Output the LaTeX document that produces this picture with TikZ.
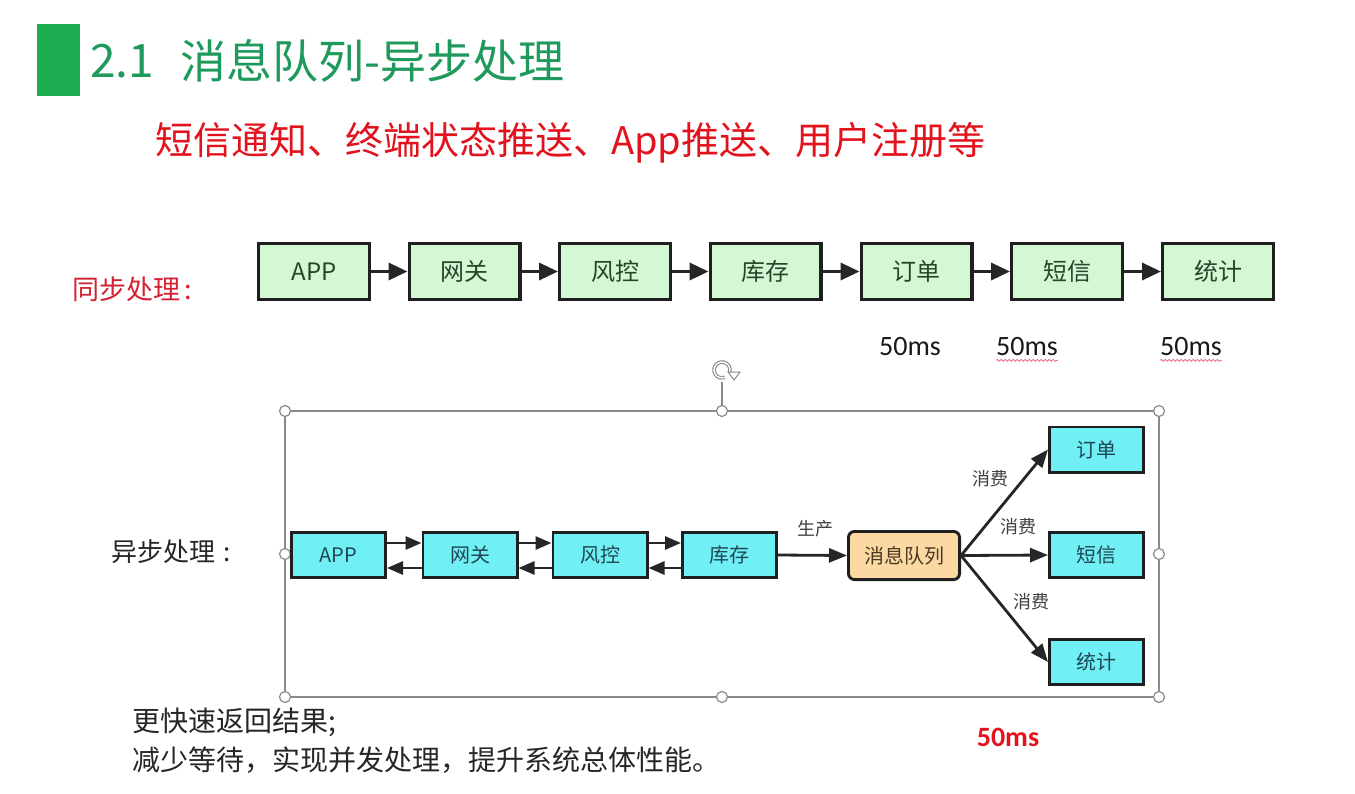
\documentclass[tikz,border=0pt]{standalone}
\usepackage{fontspec}
\setmainfont{Noto Sans CJK SC}
\newfontfamily\calfont{Carlito}
\usetikzlibrary{arrows.meta,decorations.pathmorphing}

\definecolor{barGreen}{HTML}{1DAA50}
\definecolor{titleGreen}{HTML}{1E9A5C}
\definecolor{subRed}{HTML}{E3131E}
\definecolor{labelRed}{HTML}{D42030}
\definecolor{syncFill}{HTML}{D4F7D4}
\definecolor{syncText}{HTML}{24472A}
\definecolor{aquaFill}{HTML}{70F0F5}
\definecolor{aquaText}{HTML}{1F4652}
\definecolor{queueFill}{HTML}{FCD8A2}
\definecolor{queueText}{HTML}{4A3A22}
\definecolor{frameGray}{HTML}{8A8A8A}
\definecolor{waveRed}{HTML}{E0607A}

\tikzset{
  syncbox/.style={draw=black!88, line width=3.4pt, fill=syncFill, text=syncText,
    minimum width=110.6pt, minimum height=55.6pt, inner sep=0pt,
    font=\fontsize{24}{24}\selectfont},
  asyncbox/.style={draw=black!88, line width=2.9pt, fill=aquaFill, text=aquaText,
    minimum width=94.1pt, minimum height=45.1pt, inner sep=0pt,
    font=\fontsize{20}{20}\selectfont},
  queuebox/.style={draw=black!88, line width=2.9pt, fill=queueFill, text=queueText,
    rounded corners=6pt, minimum width=111.1pt, minimum height=48.1pt, inner sep=0pt,
    font=\fontsize{20}{20}\selectfont},
  syncarrow/.style={draw=black!85, line width=3.4pt, -{Triangle[length=19pt,width=17pt]}},
  asyncarrow/.style={draw=black!85, line width=2.9pt, -{Triangle[length=16pt,width=13pt]}},
  mqarrow/.style={draw=black!85, line width=2.8pt, -{Triangle[length=18pt,width=14pt]}},
  edgelabel/.style={text=black!75, font=\fontsize{18}{18}\selectfont, inner sep=0pt},
  timing/.style={text=black!90, font=\calfont\fontsize{28}{28}\selectfont, inner sep=0pt},
  handle/.style={circle, draw=frameGray, line width=1.2pt, fill=white,
    minimum size=11pt, inner sep=0pt},
  wavy/.style={draw=waveRed, line width=0.7pt,
    decorate, decoration={snake, segment length=4pt, amplitude=1pt}},
}

\begin{document}
\begin{tikzpicture}[x=1pt, y=-1pt]
\path[use as bounding box, fill=white] (0,0) rectangle (1355,793);

% heading
\fill[barGreen] (37,24) rectangle (80,96);
\node[anchor=west, text=titleGreen, font=\fontsize{46}{46}\selectfont, inner sep=0pt]
  (num) at (90,61) {2.1};
\node[anchor=west, text=titleGreen, font=\fontsize{46}{46}\selectfont, inner sep=0pt]
  (title) at (180,61) {消息队列-异步处理};
\node[anchor=west, text=subRed, font=\fontsize{38}{38}\selectfont, inner sep=0pt]
  (subtitle) at (155,143) {短信通知、终端状态推送、App推送、用户注册等};

% synchronous chain
\node[anchor=west, text=labelRed, font=\fontsize{27}{27}\selectfont, inner sep=0pt]
  (synclabel) at (72,289) {同步处理\,:};
\node[syncbox] (s1) at (314,271.5) {APP};
\node[syncbox] (s2) at (464.5,271.5) {网关};
\node[syncbox] (s3) at (615,271.5) {风控};
\node[syncbox] (s4) at (765.5,271.5) {库存};
\node[syncbox] (s5) at (916.5,271.5) {订单};
\node[syncbox] (s6) at (1067,271.5) {短信};
\node[syncbox] (s7) at (1218,271.5) {统计};
\foreach \a/\b in {s1/s2,s2/s3,s3/s4,s4/s5,s5/s6,s6/s7}
  \draw[syncarrow] (\a.east) -- (\b.west);

\node[timing] (t1) at (910,347) {50ms};
\node[timing] (t2) at (1027,347) {50ms};
\node[timing] (t3) at (1191,347) {50ms};
\draw[wavy] ([yshift=-4pt]t2.south west) -- ([yshift=-4pt]t2.south east);
\draw[wavy] ([yshift=-4pt]t3.south west) -- ([yshift=-4pt]t3.south east);

% selection frame with handles
\coordinate (fTL) at (285,411);
\coordinate (fTM) at (722,411);
\coordinate (fTR) at (1159,411);
\coordinate (fML) at (285,554);
\coordinate (fMR) at (1159,554);
\coordinate (fBL) at (285,697);
\coordinate (fBM) at (722,697);
\coordinate (fBR) at (1159,697);
\coordinate (rot) at (722,370);
\draw[frameGray, line width=1.2pt] (fTL) rectangle (fBR);
\draw[frameGray, line width=1.2pt] (fTM) -- (722,382);
% rotation handle
\draw[frameGray, line width=3.6pt] (rot) ++(15:8) arc[start angle=15, end angle=-290, radius=8];
\draw[white, line width=1.4pt] (rot) ++(15:8) arc[start angle=15, end angle=-290, radius=8];
\filldraw[fill=white, draw=frameGray, line width=1pt]
  (728,372) -- (740,372) -- (734,380) -- cycle;
\foreach \h in {fTL,fTM,fTR,fML,fMR,fBL,fBM,fBR}
  \node[handle] at (\h) {};

% asynchronous chain
\node[anchor=west, text=black!85, font=\fontsize{26}{26}\selectfont, inner sep=0pt]
  (asynclabel) at (111,552) {异步处理\,\,:};
\node[asyncbox] (a1) at (338.5,555) {APP};
\node[asyncbox] (a2) at (470,555) {网关};
\node[asyncbox] (a3) at (600,555) {风控};
\node[asyncbox] (a4) at (729.5,555) {库存};
\foreach \a/\b in {a1/a2,a2/a3,a3/a4}{
  \draw[asyncarrow] ([yshift=12pt]\a.east) -- ([yshift=12pt]\b.west);
  \draw[asyncarrow] ([yshift=-13pt]\b.west) -- ([yshift=-13pt]\a.east);
}

\node[queuebox] (mq) at (904,555.5) {消息队列};
\draw[mqarrow] (a4.east) -- (mq.west);
\node[edgelabel] (produce) at (815,529) {生产};

\node[asyncbox] (c1) at (1096.5,449.5) {订单};
\node[asyncbox] (c2) at (1096.5,555) {短信};
\node[asyncbox] (c3) at (1096.5,662) {统计};
\draw[mqarrow] (mq.east) -- (c1.west);
\draw[mqarrow] (mq.east) -- (c2.west);
\draw[mqarrow] (mq.east) -- (c3.west);
\node[edgelabel] (use1) at (990,479) {消费};
\node[edgelabel] (use2) at (1018,527) {消费};
\node[edgelabel] (use3) at (1031,602) {消费};

% summary
\node[anchor=west, text=black!85, font=\fontsize{28}{28}\selectfont, inner sep=0pt]
  (sum1) at (132,722) {更快速返回结果;};
\node[anchor=west, text=black!85, font=\fontsize{28}{28}\selectfont, inner sep=0pt]
  (sum2) at (132,760) {减少等待，实现并发处理，提升系统总体性能。};
\node[text=subRed, font=\calfont\bfseries\fontsize{28}{28}\selectfont, inner sep=0pt]
  (total) at (1008,737) {50ms};
\end{tikzpicture}
\end{document}
